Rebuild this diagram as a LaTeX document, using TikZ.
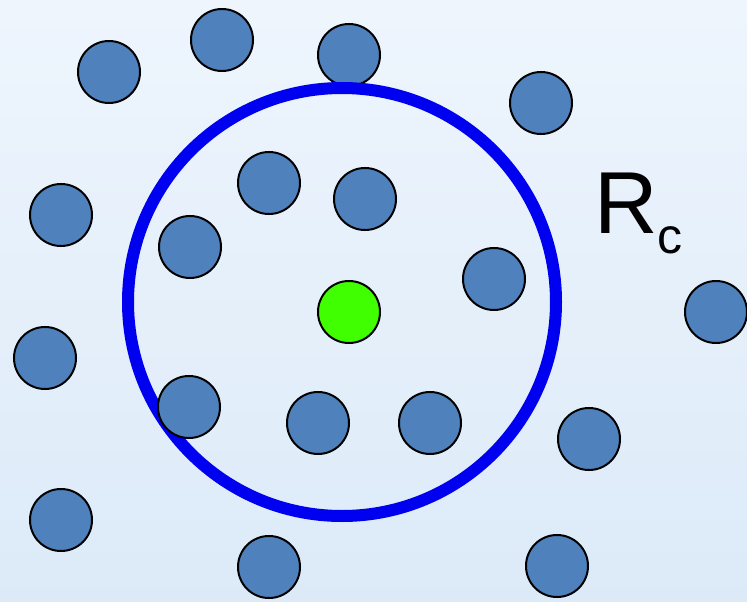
\documentclass[tikz,border=0pt]{standalone}
\usepackage{fontspec}
\setmainfont{Liberation Sans}
\usepackage{xcolor}
\usetikzlibrary{positioning}

\definecolor{bgtop}{HTML}{EEF5FD}
\definecolor{bgbot}{HTML}{DCEAF8}
\definecolor{partblue}{HTML}{4F81BD}
\definecolor{centgreen}{HTML}{40FF00}
\definecolor{cutblue}{HTML}{0000F0}

\begin{document}
\begin{tikzpicture}[
    x=1pt, y=-1pt,
    particle/.style={circle, draw=black, line width=2pt, fill=partblue, minimum size=62pt, inner sep=0pt},
    centre/.style={particle, fill=centgreen},
    cutoff/.style={circle, draw=cutblue, line width=12pt, minimum size=428pt, inner sep=0pt}
]
    % background
    \fill[top color=bgtop, bottom color=bgbot] (0,0) rectangle (747,602);
    \useasboundingbox (0,0) rectangle (747,602);

    % top particle sits under the ring
    \node[particle] (p0) at (349,55) {};

    % cutoff sphere
    \node[cutoff] (sphere) at (342,302) {};

    % neighbour particles
    \foreach \px/\py [count=\i] in {109/72, 222/40, 541/103, 269/183, 365/199,
        190/247, 61/215, 494/279, 716/312, 45/358, 189/407, 318/423, 430/423,
        589/439, 61/520, 269/567, 557/566}
        \node[particle] (p\i) at (\px,\py) {};

    % central particle
    \node[centre] (origin) at (349,312) {};

    % cutoff radius label
    \node[anchor=base west, inner sep=0pt] (rc) at (594,233)
        {\fontsize{88}{88}\selectfont R\raisebox{-20pt}{\fontsize{50}{50}\selectfont c}};
\end{tikzpicture}
\end{document}
